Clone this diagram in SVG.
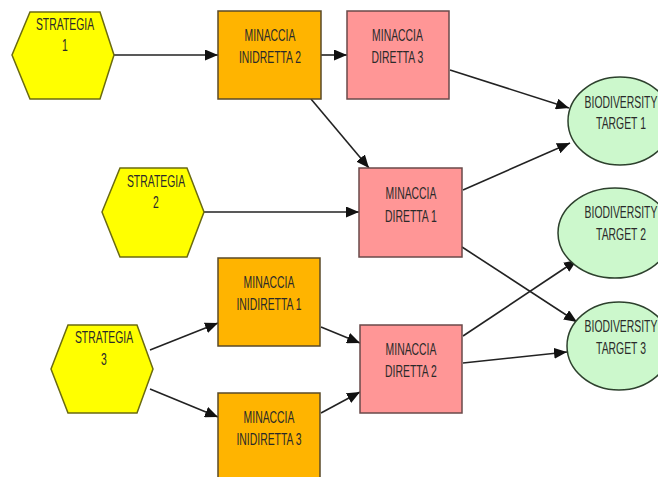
<svg xmlns="http://www.w3.org/2000/svg" width="658" height="477" viewBox="0 0 658 477">
<style>
.t{font-family:"Liberation Sans",Arial,sans-serif;font-size:16px;fill:#2a2a2a;text-anchor:middle}
.hex{fill:#FFFF00;stroke:#6b6b10;stroke-width:1.5}
.ind{fill:#FFB400;stroke:#5a4a28;stroke-width:1.5}
.dir{fill:#FF9696;stroke:#6a4a4a;stroke-width:1.5}
.bio{fill:#CCF8CC;stroke:#2d402d;stroke-width:1.5}
.c line{stroke:#222;stroke-width:1.6;marker-end:url(#ah)}
</style>
<defs>
<marker id="ah" markerUnits="userSpaceOnUse" markerWidth="13" markerHeight="11" refX="13" refY="5.5" orient="auto">
<path d="M0,0 L13,5.5 L0,11 z" fill="#111"/>
</marker>
</defs>
<rect width="658" height="477" fill="#fff"/>
<g class="c" id="connectors">
<line x1="114" y1="55" x2="218" y2="55"/>
<line x1="321" y1="55" x2="347" y2="55"/>
<line x1="311" y1="99" x2="369" y2="168"/>
<line x1="450" y1="70" x2="569" y2="108"/>
<line x1="463" y1="190" x2="570" y2="143"/>
<line x1="204" y1="212" x2="359" y2="212"/>
<line x1="462" y1="247" x2="577" y2="322"/>
<line x1="463" y1="336" x2="577" y2="260"/>
<line x1="463" y1="363" x2="567" y2="352"/>
<line x1="150" y1="350" x2="218" y2="323"/>
<line x1="150" y1="389" x2="218" y2="417"/>
<line x1="321" y1="327" x2="360" y2="343"/>
<line x1="321" y1="413" x2="360" y2="392"/>
</g>
<g id="strategia1">
<polygon class="hex" points="12,55 30,12 100,12 114,55 100,99 30,99"/>
<text class="t" transform="translate(65,29.5) scale(0.65,1)">STRATEGIA</text>
<text class="t" transform="translate(65,50.5) scale(0.65,1)">1</text>
</g>
<g id="strategia2">
<polygon class="hex" points="102,212 120,168 187,168 204,212 187,257 120,257"/>
<text class="t" transform="translate(156,186.5) scale(0.65,1)">STRATEGIA</text>
<text class="t" transform="translate(156,208) scale(0.65,1)">2</text>
</g>
<g id="strategia3">
<polygon class="hex" points="51,369 68,325 137,325 153,369 137,413 68,413"/>
<text class="t" transform="translate(104,343) scale(0.65,1)">STRATEGIA</text>
<text class="t" transform="translate(104,365) scale(0.65,1)">3</text>
</g>
<g id="indiretta2">
<rect class="ind" x="218" y="11" width="103" height="88"/>
<text class="t" transform="translate(270,40.5) scale(0.65,1)">MINACCIA</text>
<text class="t" transform="translate(270,63) scale(0.65,1)">INIDRETTA 2</text>
</g>
<g id="diretta3">
<rect class="dir" x="347" y="11" width="102" height="88"/>
<text class="t" transform="translate(397.5,40.5) scale(0.65,1)">MINACCIA</text>
<text class="t" transform="translate(397.5,63) scale(0.65,1)">DIRETTA 3</text>
</g>
<g id="diretta1">
<rect class="dir" x="359" y="168" width="103" height="89"/>
<text class="t" transform="translate(411,199) scale(0.65,1)">MINACCIA</text>
<text class="t" transform="translate(411,221.5) scale(0.65,1)">DIRETTA 1</text>
</g>
<g id="indiretta1">
<rect class="ind" x="218" y="258" width="102" height="88"/>
<text class="t" transform="translate(269,288) scale(0.65,1)">MINACCIA</text>
<text class="t" transform="translate(269,310) scale(0.65,1)">INIDIRETTA 1</text>
</g>
<g id="indiretta3">
<rect class="ind" x="218" y="393" width="102" height="90"/>
<text class="t" transform="translate(269,423) scale(0.65,1)">MINACCIA</text>
<text class="t" transform="translate(269,445) scale(0.65,1)">INIDIRETTA 3</text>
</g>
<g id="diretta2">
<rect class="dir" x="360" y="325" width="102" height="88"/>
<text class="t" transform="translate(411,355) scale(0.65,1)">MINACCIA</text>
<text class="t" transform="translate(411,376.5) scale(0.65,1)">DIRETTA 2</text>
</g>
<g id="target1">
<ellipse class="bio" cx="620" cy="121" rx="52" ry="44"/>
<text class="t" transform="translate(621,107.5) scale(0.65,1)">BIODIVERSITY</text>
<text class="t" transform="translate(621,128.5) scale(0.65,1)">TARGET 1</text>
</g>
<g id="target2">
<ellipse class="bio" cx="615" cy="233" rx="57" ry="45"/>
<text class="t" transform="translate(621,218) scale(0.65,1)">BIODIVERSITY</text>
<text class="t" transform="translate(621,240) scale(0.65,1)">TARGET 2</text>
</g>
<g id="target3">
<ellipse class="bio" cx="619" cy="346" rx="52" ry="44"/>
<text class="t" transform="translate(621,332) scale(0.65,1)">BIODIVERSITY</text>
<text class="t" transform="translate(621,354) scale(0.65,1)">TARGET 3</text>
</g>
</svg>
